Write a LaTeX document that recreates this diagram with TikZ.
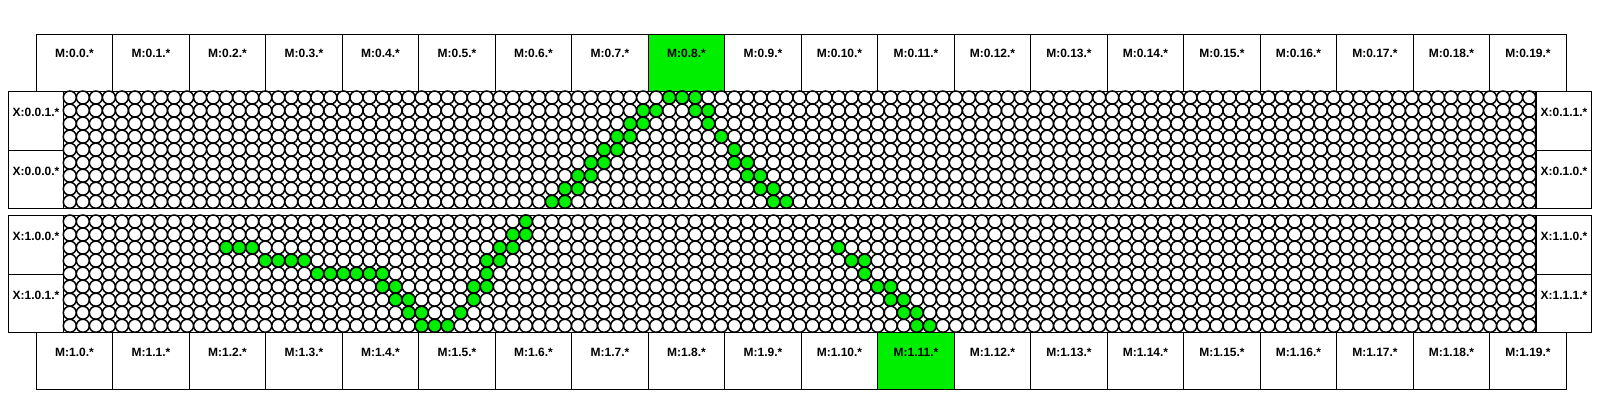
\documentclass[tikz,border=0pt]{standalone}
\usepackage{fontspec}
\setmainfont{Liberation Sans}
\definecolor{hitgreen}{RGB}{0,238,0}
\begin{document}
\begin{tikzpicture}[x=1pt, y=1pt]
    \tikzstyle{mbox}=[draw, rectangle, line width=1pt, minimum width=76.5pt, minimum height=57pt, anchor=north west, inner sep=0pt]
    \tikzstyle{xbox}=[draw, rectangle, line width=1pt, minimum width=55.5pt, minimum height=58.65pt, anchor=north west, inner sep=0pt]
    \tikzstyle{tag}=[font=\fontsize{12}{14}\selectfont\bfseries, anchor=base, inner sep=0pt]
    \tikzstyle{cell}=[draw, line width=1.5pt, fill=white]
    \tikzstyle{hit}=[draw, line width=1.5pt, fill=hitgreen]

    \useasboundingbox (0,0) rectangle (1600,400);

    % highlighted M boxes
    \fill[hitgreen] (35.7+8*76.5, 366) rectangle ++(76.5,-57);
    \fill[hitgreen] (35.7+11*76.5, 67.7) rectangle ++(76.5,-57);

    % M boxes, top and bottom
    \foreach \i in {0,...,19} {
        \node[mbox] (mt\i) at (35.7+\i*76.5, 366) {};
        \node[tag] at ([yshift=-23.7pt]mt\i.north) {M:0.\i.*};
        \node[mbox] (mb\i) at (35.7+\i*76.5, 67.7) {};
        \node[tag] at ([yshift=-24.2pt]mb\i.north) {M:1.\i.*};
    }

    % X boxes
    \node[xbox] (xl01) at (7.8, 309) {};
    \node[xbox] (xl00) at (7.8, 250.35) {};
    \node[xbox] (xr01) at (1535.7, 309) {};
    \node[xbox] (xr00) at (1535.7, 250.35) {};
    \node[xbox] (xl10) at (7.8, 185) {};
    \node[xbox] (xl11) at (7.8, 126.35) {};
    \node[xbox] (xr10) at (1535.7, 185) {};
    \node[xbox] (xr11) at (1535.7, 126.35) {};
    \node[tag] at ([yshift=-25.5pt]xl01.north) {X:0.0.1.*};
    \node[tag] at ([yshift=-25.5pt]xl00.north) {X:0.0.0.*};
    \node[tag] at ([yshift=-25.5pt]xr01.north) {X:0.1.1.*};
    \node[tag] at ([yshift=-25.5pt]xr00.north) {X:0.1.0.*};
    \node[tag] at ([yshift=-25.5pt]xl10.north) {X:1.0.0.*};
    \node[tag] at ([yshift=-25.5pt]xl11.north) {X:1.0.1.*};
    \node[tag] at ([yshift=-25.5pt]xr10.north) {X:1.1.0.*};
    \node[tag] at ([yshift=-25.5pt]xr11.north) {X:1.1.1.*};

    % grids of cells
    \draw[line width=1pt] (63.3, 309) rectangle (1535.7, 191.7);
    \draw[line width=1pt] (63.3, 185) rectangle (1535.7, 67.7);
    \foreach \r in {0,...,8}
        \foreach \c in {0,...,112} {
            \draw[cell] (69.815+\c*13.03, 302.485-\r*13.03) circle (6.515);
            \draw[cell] (69.815+\c*13.03, 178.485-\r*13.03) circle (6.515);
        }

    % hits, upper grid
    \foreach \c/\r in {46/0,47/0,48/0,44/1,45/1,48/1,49/1,43/2,44/2,49/2,42/3,43/3,50/3,
        41/4,42/4,51/4,40/5,41/5,51/5,52/5,39/6,40/6,52/6,53/6,38/7,39/7,53/7,54/7,
        37/8,38/8,54/8,55/8}
        \draw[hit] (69.815+\c*13.03, 302.485-\r*13.03) circle (6.515);

    % hits, lower grid
    \foreach \c/\r in {35/0,34/1,35/1,12/2,13/2,14/2,33/2,34/2,59/2,15/3,16/3,17/3,18/3,
        32/3,33/3,60/3,61/3,19/4,20/4,21/4,22/4,23/4,24/4,32/4,61/4,24/5,25/5,31/5,32/5,
        62/5,63/5,25/6,26/6,31/6,63/6,64/6,26/7,27/7,30/7,64/7,65/7,27/8,28/8,29/8,65/8,66/8}
        \draw[hit] (69.815+\c*13.03, 178.485-\r*13.03) circle (6.515);
\end{tikzpicture}
\end{document}
